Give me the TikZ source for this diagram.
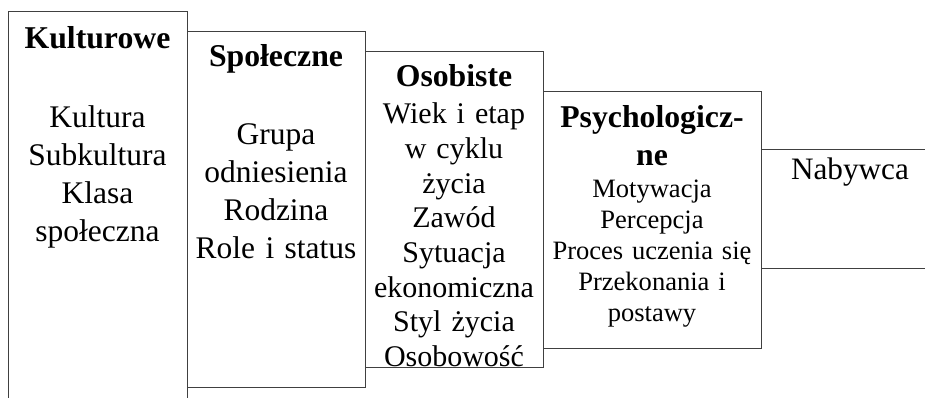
\documentclass[tikz,border=0pt]{standalone}
\usepackage{fontspec}
\setmainfont{Liberation Serif}
\tikzset{
  panel/.style={draw=black!75, fill=white, line width=0.75pt},
  head/.style={anchor=base, inner sep=0pt, text width=200pt, align=center,
    font=\fontsize{23.8}{27.8}\selectfont\bfseries},
  items/.style={anchor=base, inner sep=0pt, text width=200pt, align=center},
}
\begin{document}
\begin{tikzpicture}[x=0.75pt,y=-0.75pt]
  \useasboundingbox (0,0) rectangle (925,398);
  % panels, stepping down from left to right
  \foreach \l/\t/\r/\b in {8/12/187/420, 187/32/365/388, 365/52/543/368,
                           543/92/761/349, 761/150/960/269} {
    \draw[panel] (\l,\t) rectangle (\r,\b);
  }
  % headings
  \node[head] (kult) at (97.5,49) {Kulturowe};
  \node[head] (spol) at (276,67) {Społeczne};
  \node[head] (osob) at (454,87) {Osobiste};
  \node[head] (psych) at (652,128) {Psychologicz-\\ne};
  % factors in each panel
  \node[items, font=\fontsize{23.6}{28.5}\selectfont] (kult-f) at (97.5,128)
    {Kultura\\Subkultura\\Klasa\\społeczna};
  \node[items, font=\fontsize{23.6}{28.5}\selectfont] (spol-f) at (276,145)
    {Grupa\\odniesienia\\Rodzina\\Role i status};
  \node[items, font=\fontsize{22.5}{26}\selectfont] (osob-f) at (454,124)
    {Wiek i etap\\w cyklu\\życia\\Zawód\\Sytuacja\\ekonomiczna\\Styl życia\\Osobowość};
  \node[items, font=\fontsize{19.9}{23.25}\selectfont] (psych-f) at (652,198)
    {Motywacja\\Percepcja\\Proces uczenia się\\Przekonania i\\postawy};
  \node[items, font=\fontsize{23.4}{28}\selectfont] (naby) at (850,180) {Nabywca};
\end{tikzpicture}
\end{document}
